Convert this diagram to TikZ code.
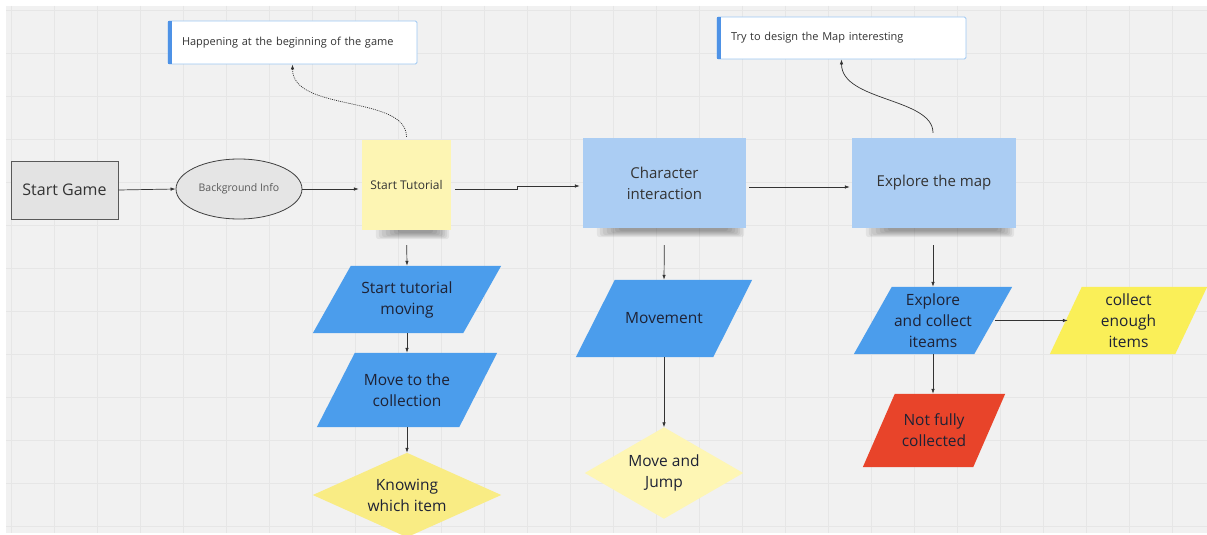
\documentclass[tikz,border=0pt]{standalone}
\usepackage{fontspec}
\setmainfont{Open Sans}
\usetikzlibrary{arrows.meta,shapes.geometric,calc}
\definecolor{canvas}{HTML}{F1F1F1}
\definecolor{gridc}{HTML}{E6E6E6}
\definecolor{stickyY}{HTML}{FDF5B3}
\definecolor{stickyB}{HTML}{ABCDF3}
\definecolor{paraB}{HTML}{4B9DEC}
\definecolor{paraY}{HTML}{FAEF58}
\definecolor{paraR}{HTML}{E8442A}
\definecolor{diaY}{HTML}{F9EC84}
\definecolor{diaLY}{HTML}{FEF6B4}
\definecolor{noteB}{HTML}{4E92E6}
\definecolor{noteO}{HTML}{9CC7F2}
\definecolor{txt}{HTML}{1E2235}
\definecolor{linec}{HTML}{333333}
\pgfdeclarelayer{bglayer}
\pgfdeclarelayer{shplayer}
\pgfsetlayers{bglayer,shplayer,main}
\tikzset{
  conn/.style={draw=linec, line width=0.7pt, -{Latex[length=5pt,width=3.5pt]}},
  box/.style={draw=none, fill=none, inner sep=0pt, align=center, text=txt, font=\fontsize{15.5}{21}\selectfont},
  sticky/.style={inner sep=0pt, align=center, text=linec},
  note/.style={draw=noteO, fill=white, line width=0.8pt, rounded corners=1.5pt, inner xsep=14pt, inner ysep=0pt,
    align=left, text=linec, font=\fontsize{11}{13}\selectfont, minimum height=#1},
  shad/.style={black, opacity=.06, rounded corners=3pt},
}
\newcommand\paral[3]{\fill[#3] ($(#1.north west)+(#2,0)$) -- (#1.north east) -- ($(#1.south east)+(-#2,0)$) -- (#1.south west) -- cycle;}
\newcommand\diam[2]{\fill[#2] (#1.north) -- (#1.east) -- (#1.south) -- (#1.west) -- cycle;}
\newcommand\stshadow[1]{%
  \fill[shad] ($(#1.south west)+(14,-4)$) rectangle ($(#1.south east)+(-2,9)$);
  \fill[shad] ($(#1.south west)+(17,-4)$) rectangle ($(#1.south east)+(-4,8)$);
  \fill[shad] ($(#1.south west)+(20,-4)$) rectangle ($(#1.south east)+(-6,7)$);
  \fill[shad] ($(#1.south west)+(24,-4)$) rectangle ($(#1.south east)+(-8,6)$);
  \fill[shad] ($(#1.south west)+(28,-4)$) rectangle ($(#1.south east)+(-11,5)$);
  \fill[shad] ($(#1.south west)+(32,-4)$) rectangle ($(#1.south east)+(-14,4)$);
  \fill[shad] ($(#1.south west)+(36,-4)$) rectangle ($(#1.south east)+(-18,3)$);}
\begin{document}
\begin{tikzpicture}[x=1pt,y=-1pt]
\useasboundingbox (0,0) rectangle (1207,535);
\clip (0,0) rectangle (1207,535);
\begin{pgfonlayer}{bglayer}
\fill[white] (0,0) rectangle (1207,535);
\fill[canvas] (6,6) rectangle (1207,533);
\foreach \x in {11,54,...,1207} \draw[gridc,line width=0.5pt] (\x,6) -- (\x,533);
\foreach \y in {10,53,...,533} \draw[gridc,line width=0.5pt] (6,\y) -- (1207,\y);
\end{pgfonlayer}

% top row
\node[draw=black!65, fill=black!11, line width=1pt, minimum width=107pt, minimum height=58pt, text=linec,
  font=\fontsize{16}{19}\selectfont] (sg) at (64.5,190) {Start Game};
\node[ellipse, draw=black!75, fill=black!10, line width=0.8pt, minimum width=126pt, minimum height=60pt,
  text=black!65, font=\fontsize{10.5}{12}\selectfont] (bi) at (239,189) {Background Info};
\node[sticky, fill=stickyY, minimum width=89pt, minimum height=90pt, font=\fontsize{12}{14}\selectfont] (st) at (406.5,185) {Start Tutorial};
\node[sticky, fill=stickyB, minimum width=163pt, minimum height=90pt, font=\fontsize{15}{21}\selectfont] (ci) at (664.5,183) {Character\\interaction};
\node[sticky, fill=stickyB, minimum width=164pt, minimum height=90pt, font=\fontsize{15}{21}\selectfont] (em) at (934,183) {Explore the map};

\node[note=43pt, minimum width=249pt, text width=221pt] (n1) at (292.5,42.5) {Happening at the beginning of the game};
\fill[noteB] ($(n1.north west)+(0,0.4)$) rectangle ($(n1.south west)+(4,-0.4)$);
\node[note=42pt, minimum width=249pt, text width=221pt] (n2) at (841.5,38) {Try to design the Map interesting};
\fill[noteB] ($(n2.north west)+(0,0.4)$) rectangle ($(n2.south west)+(4,-0.4)$);

% lower shapes
\node[box, minimum width=188pt, minimum height=67pt] (pa1) at (407,299.5) {Start tutorial\\moving};
\node[box, minimum width=180pt, minimum height=74pt] (pa2) at (407,390) {Move to the\\collection};
\node[box, minimum width=188pt, minimum height=84pt] (kw) at (407,495) {Knowing\\which item};
\node[box, minimum width=176pt, minimum height=77pt] (mv) at (664,318.5) {Movement};
\node[box, minimum width=158pt, minimum height=91pt] (mj) at (664,473) {Move and\\Jump};
\node[box, minimum width=158pt, minimum height=67pt] (ex) at (933,320.5) {Explore\\and collect\\iteams};
\node[box, minimum width=157pt, minimum height=67pt] (ce) at (1128.5,320.5) {collect\\enough\\items};
\node[box, minimum width=142pt, minimum height=73pt] (rd) at (934,430.5) {Not fully\\collected};

\begin{pgfonlayer}{shplayer}
\stshadow{st}
\stshadow{ci}
\stshadow{em}
\paral{pa1}{38}{paraB}
\paral{pa2}{38}{paraB}
\paral{mv}{39}{paraB}
\paral{ex}{38}{paraB}
\paral{ce}{32}{paraY}
\paral{rd}{32}{paraR}
\diam{kw}{diaY}
\diam{mj}{diaLY}
\end{pgfonlayer}

% connectors
\draw[conn] (sg.east) -- (bi.west);
\draw[conn, shorten >=3pt] (bi.east) -- (bi.east -| st.west);
\draw[conn] ($(st.east)+(4,4)$) -- ++(62,0) -- ++(0,-3) -- ($(ci.west)+(-3,3)$);
\draw[conn] ($(ci.east)+(3,4)$) -- ($(em.west)+(-2,4)$);
\draw[conn, shorten <=15pt] (st.south) -- (pa1.north);
\draw[conn] (pa1.south) -- (pa2.north);
\draw[conn] (pa2.south) -- (kw.north);
\draw[conn, shorten <=17pt] (ci.south) -- (mv.north);
\draw[conn] (mv.south) -- (mj.north);
\draw[conn, shorten <=17pt] (em.south -| ex.north) -- (ex.north);
\draw[conn] ($(ex.east)+(-17,0)$) -- ($(ce.west)+(18,0)$);
\draw[conn] (ex.south) -- (ex.south |- rd.north);
\draw[conn, dash pattern=on 1pt off 1pt, shorten <=3pt] (st.north) .. controls +(0,-45) and +(0,48) .. (n1.south);
\draw[conn, shorten <=5pt] (em.north -| ex.north) .. controls +(0,-40) and +(0,42) .. (n2.south);
\end{tikzpicture}
\end{document}
